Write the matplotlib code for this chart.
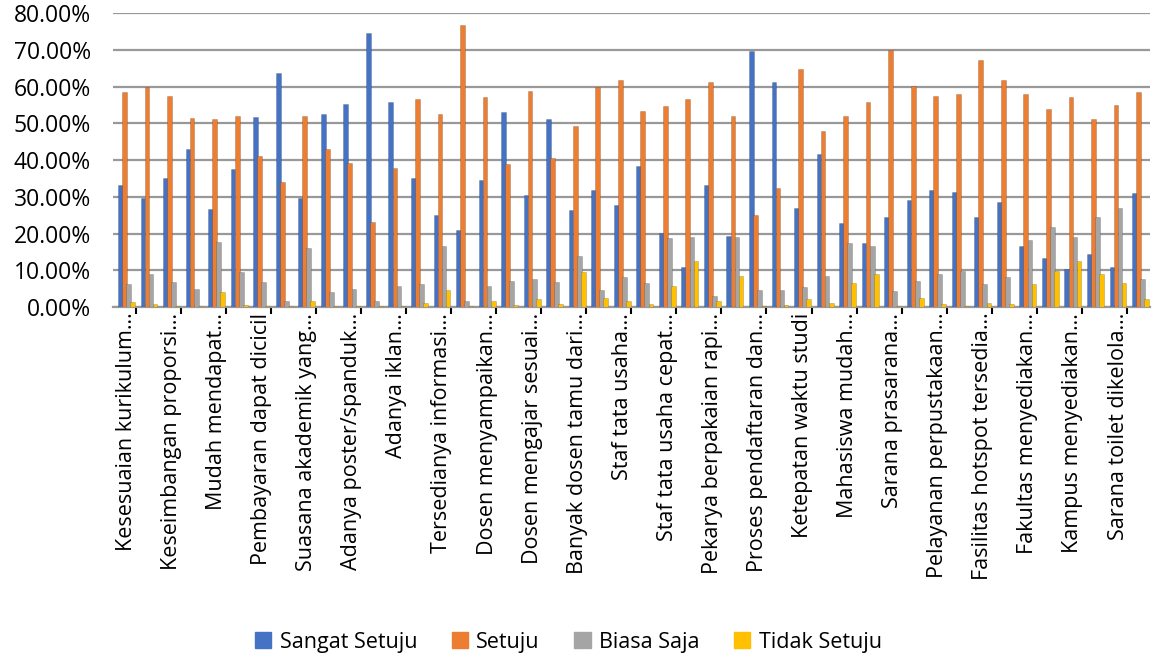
import matplotlib.pyplot as plt
import matplotlib.ticker as mticker
from matplotlib.patches import Patch
import numpy as np

plt.rcParams['font.family'] = ['Open Sans', 'DejaVu Sans']

# tick labels (Excel shows every second item of the 46)
labels = ['Kesesuaian kurikulum…', 'Keseimbangan proporsi…', 'Mudah mendapat…',
          'Pembayaran dapat dicicil', 'Suasana akademik yang…', 'Adanya poster/spanduk…',
          'Adanya iklan…', 'Tersedianya informasi…', 'Dosen menyampaikan…',
          'Dosen mengajar sesuai…', 'Banyak dosen tamu dari…', 'Staf tata usaha…',
          'Staf tata usaha cepat…', 'Pekarya berpakaian rapi…', 'Proses pendaftaran dan…',
          'Ketepatan waktu studi', 'Mahasiswa mudah…', 'Sarana prasarana…',
          'Pelayanan perpustakaan…', 'Fasilitas hotspot tersedia…', 'Fakultas menyediakan…',
          'Kampus menyediakan…', 'Sarana toilet dikelola…']

series = ['Sangat Setuju', 'Setuju', 'Biasa Saja', 'Tidak Setuju']
colors = ['#4472C4', '#ED7D31', '#A5A5A5', '#FFC000']

sangat_setuju = [33.2, 29.7, 35.1, 43.0, 26.7, 37.6, 51.8, 63.7, 29.7, 52.6,
                 55.3, 74.6, 55.8, 35.1, 25.1, 21.0, 34.6, 53.0, 30.5, 51.2,
                 26.4, 31.9, 27.8, 38.4, 20.1, 10.8, 33.2, 19.4, 69.6, 61.2,
                 26.9, 41.6, 22.8, 17.6, 24.6, 29.2, 31.9, 31.4, 24.6, 28.7,
                 16.7, 13.5, 10.4, 14.4, 10.8, 31.0]
setuju = [58.5, 59.9, 57.6, 51.6, 51.2, 52.0, 41.1, 34.1, 52.1, 43.0,
          39.3, 23.2, 38.0, 56.7, 52.6, 76.9, 57.1, 38.9, 58.9, 40.7,
          49.3, 59.9, 61.7, 53.5, 54.8, 56.7, 61.2, 52.0, 25.1, 32.3,
          64.9, 48.0, 52.1, 55.8, 70.0, 60.2, 57.6, 58.0, 67.3, 61.7,
          58.0, 54.0, 57.1, 51.2, 54.9, 58.5]
biasa_saja = [6.3, 9.0, 6.8, 4.9, 17.7, 9.5, 6.8, 1.6, 16.0, 4.1,
              4.9, 1.6, 5.8, 6.3, 16.7, 1.6, 5.8, 7.2, 7.6, 6.8,
              14.0, 4.8, 8.1, 6.6, 18.7, 19.2, 3.1, 19.2, 4.8, 4.8,
              5.4, 8.5, 17.6, 16.7, 4.4, 7.2, 9.0, 9.9, 6.3, 8.1,
              18.3, 21.7, 19.2, 24.6, 26.9, 7.6]
tidak_setuju = [1.4, 0.8, 0.2, 0.2, 4.1, 0.5, 0.2, 0.2, 1.6, 0.2,
                0.2, 0.2, 0.2, 1.2, 4.8, 0.2, 1.6, 0.5, 2.1, 0.8,
                9.5, 2.5, 1.6, 0.8, 5.8, 12.6, 1.6, 8.4, 0.2, 0.7,
                2.1, 1.2, 6.6, 9.0, 0.3, 2.5, 0.8, 0.2, 1.2, 0.8,
                6.3, 9.9, 12.6, 9.0, 6.6, 2.1]

data = [sangat_setuju, setuju, biasa_saja, tidak_setuju]
x = np.arange(len(sangat_setuju))

fig = plt.figure(figsize=(11.6, 6.62), dpi=100)
ax = fig.add_axes([0.0974, 0.536, 0.8936, 0.444])

w = 0.21
offsets = [-0.27, -0.09, 0.09, 0.27]
for vals, c, off, name in zip(data, colors, offsets, series):
    ax.bar(x + off + 0.1, np.array(vals) / 100, width=w, color=c,
           edgecolor='#00000030', linewidth=0.6, label=name, zorder=3)

ax.set_xlim(-0.5, len(x) - 0.5)
ax.set_ylim(0, 0.8)
ax.yaxis.set_major_locator(mticker.MultipleLocator(0.1))
ax.yaxis.set_major_formatter(mticker.PercentFormatter(1.0, decimals=2))
ax.grid(axis='y', color='#999999', linewidth=1.6, zorder=0)
for s in ['top', 'right', 'left']:
    ax.spines[s].set_visible(False)
ax.spines['bottom'].set_color('#999999')
ax.spines['bottom'].set_linewidth(1.6)

ax.set_xticks(x[::2] + 0.1)
ax.set_xticklabels(labels, rotation=90, fontsize=15.5)
ax.set_xticks(x[::2] + 0.5, minor=True)
ax.tick_params(axis='x', which='major', length=0, pad=4)
ax.tick_params(axis='x', which='minor', length=5, width=1.5, color='black', direction='out')
ax.tick_params(axis='y', length=0, labelsize=16.5, pad=16)

handles = [Patch(color=c) for c in colors]
fig.legend(handles, series, loc='center', bbox_to_anchor=(0.49, 0.03), ncol=4,
           frameon=False, fontsize=15.5, handlelength=0.75, handleheight=0.75,
           handletextpad=0.4, columnspacing=1.6)

fig.savefig('out.png', dpi=100)
